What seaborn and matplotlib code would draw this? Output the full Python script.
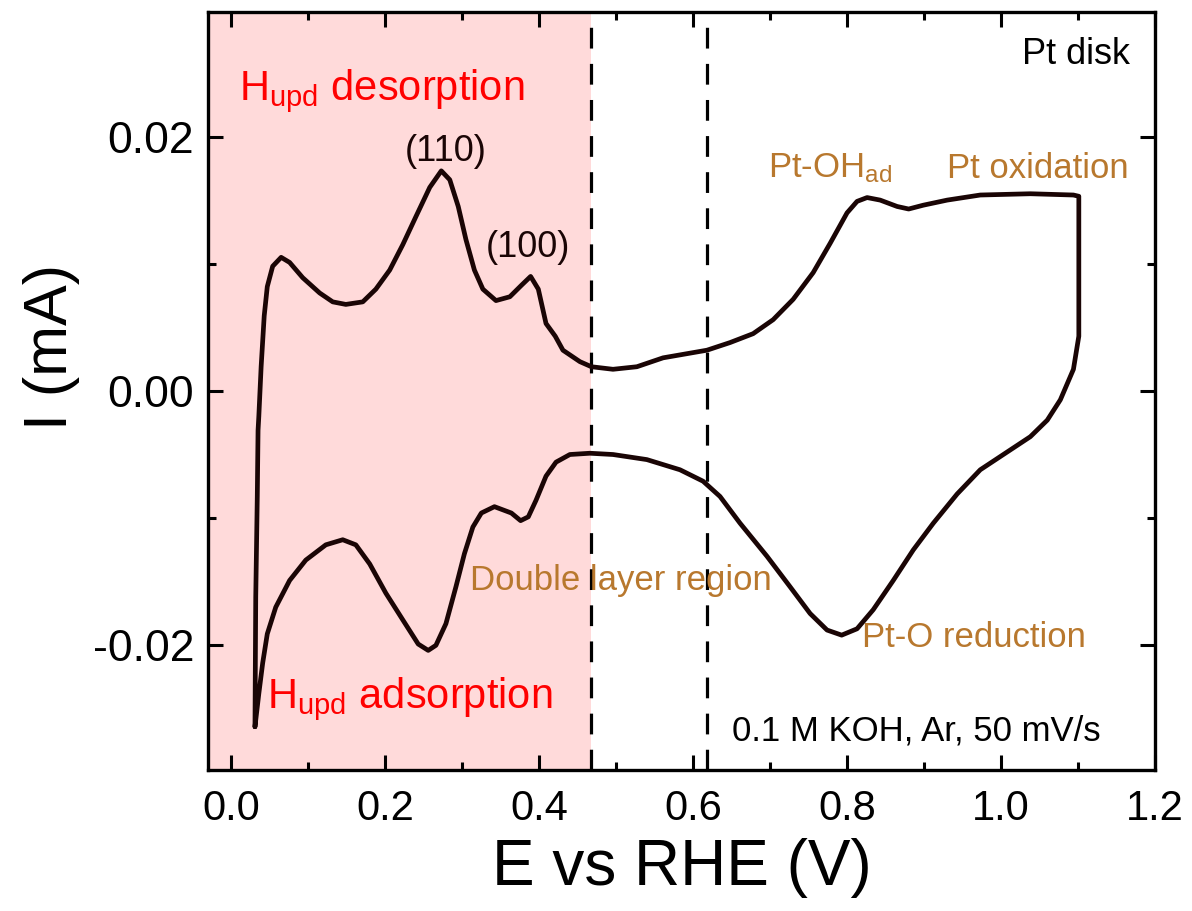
import numpy as np
import pandas as pd
import matplotlib
matplotlib.use("Agg")
import matplotlib.pyplot as plt
from matplotlib.ticker import MultipleLocator
import seaborn as sns

# ---- data ----
anodic_E = [0.031, 0.032, 0.034, 0.035, 0.036, 0.039, 0.043, 0.047, 0.054, 0.065,
            0.076, 0.093, 0.115, 0.132, 0.149, 0.171, 0.188, 0.206, 0.223, 0.240,
            0.258, 0.273, 0.284, 0.295, 0.305, 0.316, 0.327, 0.344, 0.362, 0.377,
            0.389, 0.399, 0.409, 0.421, 0.431, 0.453, 0.468, 0.496, 0.527, 0.561,
            0.618, 0.648, 0.678, 0.704, 0.730, 0.756, 0.778, 0.800, 0.813, 0.826,
            0.843, 0.865, 0.880, 0.899, 0.930, 0.973, 1.038, 1.094, 1.101]
anodic_I = [-0.0264, -0.0162, -0.0083, -0.0031, -0.0020, 0.0019, 0.0059, 0.0082, 0.0098, 0.0105,
            0.0101, 0.0089, 0.0077, 0.0070, 0.0068, 0.0070, 0.0080, 0.0095, 0.0115, 0.0137,
            0.0160, 0.0173, 0.0166, 0.0145, 0.0119, 0.0095, 0.0080, 0.0071, 0.0074, 0.0083,
            0.0090, 0.0080, 0.0053, 0.0043, 0.0032, 0.0023, 0.0019, 0.0017, 0.0019, 0.0026,
            0.0032, 0.0038, 0.0045, 0.0056, 0.0072, 0.0093, 0.0116, 0.0140, 0.0149, 0.0152,
            0.0150, 0.0145, 0.0143, 0.0146, 0.0150, 0.0154, 0.0155, 0.0154, 0.0153]

cathodic_E = [1.101, 1.101, 1.101, 1.094, 1.077, 1.060, 1.038, 1.008, 0.973, 0.943,
              0.912, 0.886, 0.860, 0.834, 0.813, 0.793, 0.774, 0.752, 0.726, 0.696,
              0.661, 0.635, 0.613, 0.583, 0.540, 0.496, 0.466, 0.440, 0.422, 0.409,
              0.396, 0.386, 0.376, 0.364, 0.342, 0.325, 0.314, 0.303, 0.292, 0.279,
              0.266, 0.256, 0.243, 0.223, 0.201, 0.180, 0.162, 0.145, 0.123, 0.097,
              0.076, 0.058, 0.047, 0.041, 0.036, 0.031]
cathodic_I = [0.0153, 0.0095, 0.0043, 0.0017, -0.0007, -0.0023, -0.0036, -0.0048, -0.0062, -0.0081,
              -0.0104, -0.0125, -0.0149, -0.0172, -0.0187, -0.0192, -0.0188, -0.0175, -0.0154, -0.0130,
              -0.0104, -0.0083, -0.0071, -0.0062, -0.0054, -0.0050, -0.0049, -0.0050, -0.0056, -0.0067,
              -0.0086, -0.0099, -0.0102, -0.0096, -0.0091, -0.0096, -0.0107, -0.0128, -0.0154, -0.0183,
              -0.0200, -0.0204, -0.0199, -0.0180, -0.0159, -0.0136, -0.0121, -0.0117, -0.0121, -0.0133,
              -0.0149, -0.0170, -0.0191, -0.0214, -0.0238, -0.0264]

x_ticks = [0.0, 0.2, 0.4, 0.6, 0.8, 1.0, 1.2]
x_tick_labels = ["0.0", "0.2", "0.4", "0.6", "0.8", "1.0", "1.2"]
y_ticks = [-0.02, 0.00, 0.02]
y_tick_labels = ["-0.02", "0.00", "0.02"]
dashed_E = [0.467, 0.618]
hupd_region_end = 0.467

df = pd.DataFrame({
    "E": anodic_E + cathodic_E,
    "I": anodic_I + cathodic_I,
})

# ---- style ----
sns.set_style("white")
plt.rcParams["font.family"] = ["Liberation Sans", "DejaVu Sans"]
plt.rcParams["mathtext.fontset"] = "custom"
plt.rcParams["mathtext.rm"] = "Liberation Sans"
plt.rcParams["mathtext.it"] = "Liberation Sans:italic"
plt.rcParams["axes.unicode_minus"] = False
for k in ["text.color", "axes.labelcolor", "xtick.color", "ytick.color", "axes.edgecolor"]:
    plt.rcParams[k] = "black"

fig = plt.figure(figsize=(11.92, 9.11), dpi=100)
ax = fig.add_axes([0.1745, 0.1548, 0.7945, 0.8322])

ax.axvspan(-0.03, hupd_region_end, color="#FFDADA", zorder=0, lw=0)
for xd in dashed_E:
    ax.axvline(xd, color="black", lw=2.3, linestyle=(0, (6.5, 4.8)), zorder=1)

sns.lineplot(data=df, x="E", y="I", sort=False, estimator=None, ax=ax,
             color="#1a0505", lw=3.4, zorder=3)
for ln in ax.get_lines():
    ln.set_solid_joinstyle("round")
    ln.set_solid_capstyle("round")

ax.set_xlim(-0.03, 1.2)
ax.set_ylim(-0.0298, 0.0298)

ax.set_xticks(x_ticks)
ax.set_xticklabels(x_tick_labels, fontsize=30)
ax.set_yticks(y_ticks)
ax.set_yticklabels(y_tick_labels, fontsize=32)
ax.xaxis.set_minor_locator(MultipleLocator(0.1))
ax.yaxis.set_minor_locator(MultipleLocator(0.01))
ax.tick_params(which="both", direction="in", top=True, right=True, bottom=True, left=True,
               width=2.2, color="black", labelcolor="black")
ax.tick_params(which="major", length=11)
ax.tick_params(which="minor", length=6)
ax.tick_params(axis="x", which="major", pad=14)
ax.tick_params(axis="y", which="major", pad=10)

for sp in ax.spines.values():
    sp.set_linewidth(2.4)
    sp.set_color("black")

ax.set_xlabel("E vs RHE (V)", fontsize=46, labelpad=6)
ax.set_ylabel("I (mA)", fontsize=44)
ax.yaxis.set_label_coords(-0.135, 0.558)

red = "#FF0000"
brown = "#B8782E"
dark = "#1a0505"
ax.text(0.0107, 0.0229, r"H$_{\mathrm{upd}}$ desorption", color=red, fontsize=30,
        ha="left", va="baseline", zorder=5)
ax.text(0.046, -0.0249, r"H$_{\mathrm{upd}}$ adsorption", color=red, fontsize=30,
        ha="left", va="baseline", zorder=5)
ax.text(0.279, 0.0188, "(110)", color=dark, fontsize=26, ha="center", va="center", zorder=5)
ax.text(0.386, 0.0113, "(100)", color=dark, fontsize=26, ha="center", va="center", zorder=5)
ax.text(0.697, 0.01677, r"Pt-OH$_{\mathrm{ad}}$", color=brown, fontsize=25,
        ha="left", va="baseline", zorder=5)
ax.text(0.930, 0.01677, "Pt oxidation", color=brown, fontsize=25,
        ha="left", va="baseline", zorder=5)
ax.text(0.310, -0.01567, "Double layer region", color=brown, fontsize=25,
        ha="left", va="baseline", zorder=5)
ax.text(0.819, -0.02016, "Pt-O reduction", color=brown, fontsize=25,
        ha="left", va="baseline", zorder=5)
ax.text(1.168, 0.02567, "Pt disk", color="black", fontsize=26,
        ha="right", va="baseline", zorder=5)
ax.text(0.650, -0.02748, "0.1 M KOH, Ar, 50 mV/s", color="black", fontsize=25,
        ha="left", va="baseline", zorder=5)

fig.savefig("out.png", dpi=100)
